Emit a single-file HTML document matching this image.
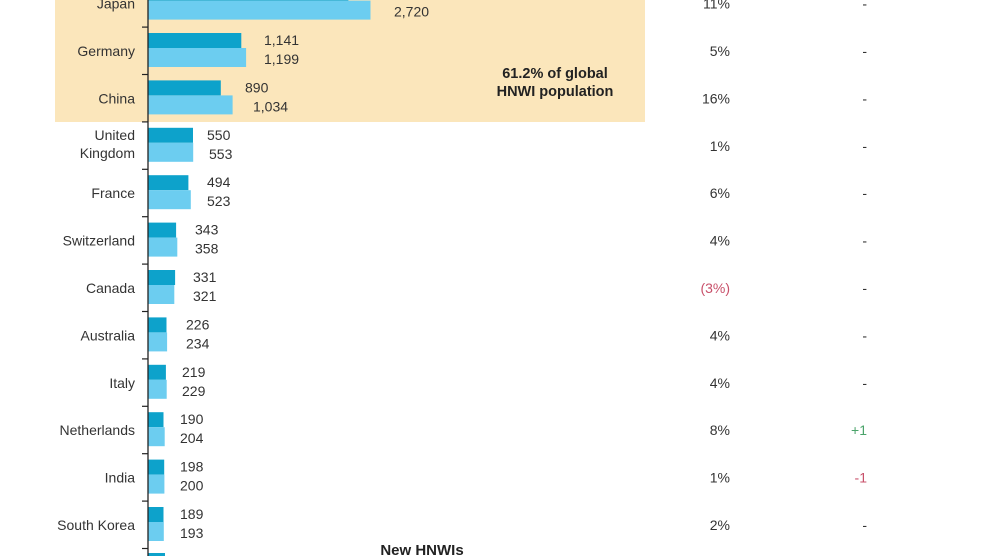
<!DOCTYPE html>
<html><head><meta charset="utf-8"><style>
html,body{margin:0;padding:0;background:#fff;}
svg{display:block;font-family:"Liberation Sans",Arial,sans-serif;}
</style></head><body>
<svg width="990" height="556" viewBox="0 0 990 556" xmlns="http://www.w3.org/2000/svg">
<rect x="55" y="0" width="590" height="122" fill="#fbe6bb"/>
<g fill="#0da2cb">
<rect x="148" y="-14.4" width="200.4" height="15"/>
<rect x="148" y="33" width="93.3" height="15"/>
<rect x="148" y="80.4" width="72.8" height="15"/>
<rect x="148" y="127.8" width="45" height="15"/>
<rect x="148" y="175.2" width="40.4" height="15"/>
<rect x="148" y="222.6" width="28.1" height="15"/>
<rect x="148" y="270" width="27.1" height="15"/>
<rect x="148" y="317.4" width="18.5" height="15"/>
<rect x="148" y="364.8" width="17.9" height="15"/>
<rect x="148" y="412.2" width="15.5" height="15"/>
<rect x="148" y="459.6" width="16.2" height="15"/>
<rect x="148" y="507" width="15.5" height="15"/>
<rect x="148" y="553" width="17" height="5"/>
</g>
<g fill="#6ccdf0">
<rect x="148" y="0.6" width="222.5" height="19"/>
<rect x="148" y="48" width="98.1" height="19"/>
<rect x="148" y="95.4" width="84.6" height="19"/>
<rect x="148" y="142.8" width="45.2" height="19"/>
<rect x="148" y="190.2" width="42.8" height="19"/>
<rect x="148" y="237.6" width="29.3" height="19"/>
<rect x="148" y="285" width="26.3" height="19"/>
<rect x="148" y="332.4" width="19.1" height="19"/>
<rect x="148" y="379.8" width="18.7" height="19"/>
<rect x="148" y="427.2" width="16.7" height="19"/>
<rect x="148" y="474.6" width="16.4" height="19"/>
<rect x="148" y="522" width="15.8" height="19"/>
</g>
<g stroke="#222" stroke-width="1.2">
<line x1="148" x2="148" y1="0" y2="556" stroke-width="1.3"/>
<line x1="142" x2="148" y1="27.1" y2="27.1"/>
<line x1="142" x2="148" y1="74.5" y2="74.5"/>
<line x1="142" x2="148" y1="121.9" y2="121.9"/>
<line x1="142" x2="148" y1="169.3" y2="169.3"/>
<line x1="142" x2="148" y1="216.7" y2="216.7"/>
<line x1="142" x2="148" y1="264.1" y2="264.1"/>
<line x1="142" x2="148" y1="311.5" y2="311.5"/>
<line x1="142" x2="148" y1="358.9" y2="358.9"/>
<line x1="142" x2="148" y1="406.3" y2="406.3"/>
<line x1="142" x2="148" y1="453.7" y2="453.7"/>
<line x1="142" x2="148" y1="501.1" y2="501.1"/>
<line x1="142" x2="148" y1="548.5" y2="548.5"/>
</g>
<g font-size="14" fill="#333">
<text x="387" y="-2.4">2,450</text><text x="394" y="16.6">2,720</text>
<text x="264" y="45">1,141</text><text x="264" y="64">1,199</text>
<text x="245" y="92.4">890</text><text x="253" y="111.4">1,034</text>
<text x="207" y="139.8">550</text><text x="209" y="158.8">553</text>
<text x="207" y="187.2">494</text><text x="207" y="206.2">523</text>
<text x="195" y="234.6">343</text><text x="195" y="253.6">358</text>
<text x="193" y="282">331</text><text x="193" y="301">321</text>
<text x="186" y="329.4">226</text><text x="186" y="348.4">234</text>
<text x="182" y="376.8">219</text><text x="182" y="395.8">229</text>
<text x="180" y="424.2">190</text><text x="180" y="443.2">204</text>
<text x="180" y="471.6">198</text><text x="180" y="490.6">200</text>
<text x="180" y="519">189</text><text x="180" y="538">193</text>
</g>
<g font-size="14" fill="#333" text-anchor="end">
<text x="135" y="8.6">Japan</text>
<text x="135" y="56">Germany</text>
<text x="135" y="103.4">China</text>
<text x="135" y="140">United</text><text x="135" y="158">Kingdom</text>
<text x="135" y="198.2">France</text>
<text x="135" y="245.6">Switzerland</text>
<text x="135" y="293">Canada</text>
<text x="135" y="340.4">Australia</text>
<text x="135" y="387.8">Italy</text>
<text x="135" y="435.2">Netherlands</text>
<text x="135" y="482.6">India</text>
<text x="135" y="530">South Korea</text>
</g>
<g font-size="14" fill="#333" text-anchor="end">
<text x="730" y="8.6">11%</text>
<text x="730" y="56">5%</text>
<text x="730" y="103.4">16%</text>
<text x="730" y="150.8">1%</text>
<text x="730" y="198.2">6%</text>
<text x="730" y="245.6">4%</text>
<text x="730" y="293" fill="#c8506a">(3%)</text>
<text x="730" y="340.4">4%</text>
<text x="730" y="387.8">4%</text>
<text x="730" y="435.2">8%</text>
<text x="730" y="482.6">1%</text>
<text x="730" y="530">2%</text>
<text x="867" y="8.6">-</text>
<text x="867" y="56">-</text>
<text x="867" y="103.4">-</text>
<text x="867" y="150.8">-</text>
<text x="867" y="198.2">-</text>
<text x="867" y="245.6">-</text>
<text x="867" y="293">-</text>
<text x="867" y="340.4">-</text>
<text x="867" y="387.8">-</text>
<text x="867" y="435.2" fill="#4aa36a">+1</text>
<text x="867" y="482.6" fill="#c8506a">-1</text>
<text x="867" y="530">-</text>
</g>
<text x="555" y="78" font-size="14.5" font-weight="bold" fill="#222" text-anchor="middle">61.2% of global</text>
<text x="555" y="96" font-size="14.5" font-weight="bold" fill="#222" text-anchor="middle">HNWI population</text>
<text x="422" y="555" font-size="15" font-weight="bold" fill="#222" text-anchor="middle">New HNWIs</text>
</svg>
</body></html>
